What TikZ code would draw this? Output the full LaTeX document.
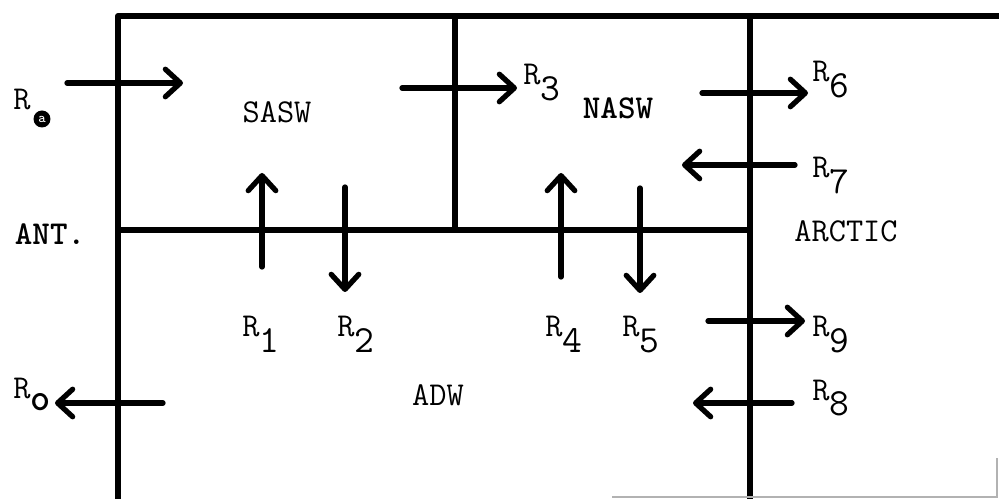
\documentclass[tikz,border=0pt]{standalone}
\usetikzlibrary{arrows.meta}
\newcommand{\Rlab}[1]{R\raisebox{-9pt}{\scalebox{1.15}{#1}}}
\tikzset{
  wall/.style={line width=3.3pt, line cap=round, line join=round},
  flux/.style={line width=3pt, line cap=round, ->},
  lab/.style={font=\fontsize{19}{21}\selectfont\ttfamily, inner sep=0pt},
  rlab/.style={lab, anchor=base west}
}
\begin{document}
\begin{tikzpicture}[x=0.02cm, y=-0.02cm,
    >={Straight Barb[length=3mm, width=5.5mm, line cap=round, line join=round]}]
        \useasboundingbox (0,0) rectangle (999,499);

        % --- Box walls ---
        \draw[wall] (118,499) -- (118,16) -- (999,16);
        \draw[wall] (455,16) -- (455,230);
        \draw[wall] (118,230) -- (750,230);
        \draw[wall] (750,16) -- (750,499);
        \draw[gray!60, line width=0.8pt] (612,497) -- (997,497) -- (997,458);

        % --- Water masses ---
        \node[lab] (sasw) at (277,112) {SASW};
        \node[lab, font=\fontsize{19}{21}\selectfont\ttfamily\bfseries] (nasw) at (618,108) {NASW};
        \node[lab] (adw) at (438,395) {ADW};
        \node[lab, font=\fontsize{19}{21}\selectfont\ttfamily\bfseries] (ant) at (50,234) {ANT.};
        \node[lab] (arctic) at (846,231) {ARCTIC};

        % --- Horizontal fluxes ---
        \coordinate (s0) at (67,83);   \coordinate (e0) at (183,83);
        \coordinate (s3) at (402,88);  \coordinate (e3) at (517,88);
        \coordinate (s6) at (702,93);  \coordinate (e6) at (808,93);
        \coordinate (s7) at (795,165); \coordinate (e7) at (682,165);
        \coordinate (s9) at (708,321); \coordinate (e9) at (805,321);
        \coordinate (s8) at (792,403); \coordinate (e8) at (693,403);
        \coordinate (so) at (163,403); \coordinate (eo) at (55,403);
        \draw[flux] (s0) -- (e0);
        \draw[flux] (s3) -- (e3);
        \draw[flux] (s6) -- (e6);
        \draw[flux] (s7) -- (e7);
        \draw[flux] (s9) -- (e9);
        \draw[flux] (s8) -- (e8);
        \draw[flux] (so) -- (eo);

        % --- Vertical fluxes ---
        \coordinate (s1) at (262,267); \coordinate (e1) at (262,173);
        \coordinate (s2) at (345,187); \coordinate (e2) at (345,292);
        \coordinate (s4) at (561,277); \coordinate (e4) at (561,173);
        \coordinate (s5) at (640,188); \coordinate (e5) at (640,293);
        \draw[flux] (s1) -- (e1);
        \draw[flux] (s2) -- (e2);
        \draw[flux] (s4) -- (e4);
        \draw[flux] (s5) -- (e5);

        % --- Flux labels ---
        \node[rlab] (ra) at (13,110) {R};
        \node[circle, fill=black, text=white, inner sep=0pt, minimum size=0.34cm,
            font=\footnotesize\ttfamily] (rasub) at (42,119) {a};
        \node[rlab] (r3) at (523,85) {\Rlab{3}};
        \node[rlab] (r6) at (812,82) {\Rlab{6}};
        \node[rlab] (r7) at (812,178) {\Rlab{7}};
        \node[rlab] (r1) at (242,337) {\Rlab{1}};
        \node[rlab] (r2) at (337,337) {\Rlab{2}};
        \node[rlab] (r4) at (545,337) {\Rlab{4}};
        \node[rlab] (r5) at (622,337) {\Rlab{5}};
        \node[rlab] (r9) at (812,337) {\Rlab{9}};
        \node[rlab] (r8) at (812,400) {\Rlab{8}};
        \node[rlab] (ro) at (13,398) {R\raisebox{-7pt}{\scalebox{1.15}{\bfseries o}}};
    \end{tikzpicture}
\end{document}
